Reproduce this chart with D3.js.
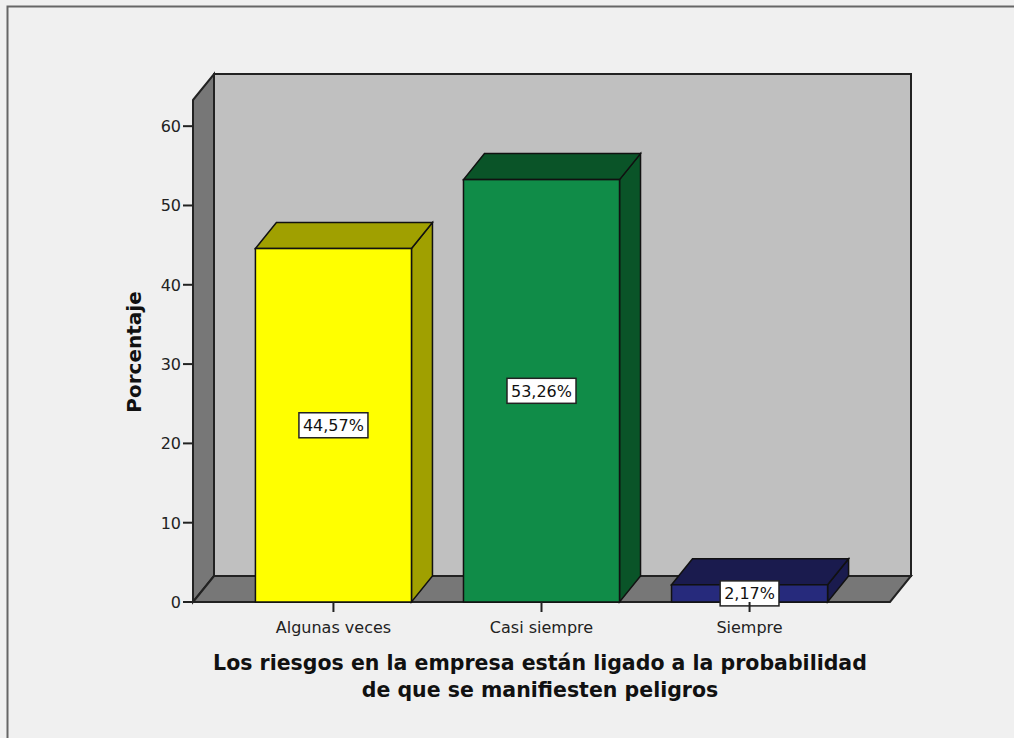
<!DOCTYPE html>
<html>
<head>
<meta charset="utf-8">
<title>Porcentaje</title>
<script src="https://d3js.org/d3.v7.min.js"></script>
<style>
    body { margin: 0; background: #f0f0f0; }
    svg { display: block; }
</style>
</head>
<body>
<div id="chart"></div>
<script>
    // data
    var categories = ['Algunas veces', 'Casi siempre', 'Siempre'];
    var values = [44.57, 53.26, 2.17];
    var valueLabels = ['44,57%', '53,26%', '2,17%'];
    var yTicks = [0, 10, 20, 30, 40, 50, 60];

    var frontColors = ['#ffff00', '#108c48', '#262a7c'];
    var darkColors = ['#a0a000', '#0a5428', '#1a1b4e'];

    var width = 1014, height = 738;
    var plotLeft = 193, plotRight = 890, plotBottom = 602, plotTop = 100;
    var dx = 21, dy = 26;
    var edge = '#222';
    var labelFont = '16px "DejaVu Sans", sans-serif';

    var svg = d3.select('#chart').append('svg')
        .attr('width', width)
        .attr('height', height)
        .style('background', '#f0f0f0');

    // frame
    svg.append('path')
        .attr('d', 'M7.5,' + height + 'V6.5H' + width)
        .attr('fill', 'none')
        .attr('stroke', '#666')
        .attr('stroke-width', 2);

    var y = d3.scaleLinear().domain([0, 63.3]).range([plotBottom, plotTop]);
    var x = d3.scaleBand().domain(categories).range([plotLeft, plotRight])
        .paddingInner(0.25).paddingOuter(0.3);

    function poly(pts) { return 'M' + pts.map(function(p){ return p.join(','); }).join('L') + 'Z'; }

    // back wall
    svg.append('rect')
        .attr('x', plotLeft + dx).attr('y', plotTop - dy)
        .attr('width', plotRight - plotLeft).attr('height', plotBottom - plotTop)
        .attr('fill', '#c0c0c0').attr('stroke', edge).attr('stroke-width', 2);

    // left wall
    svg.append('path')
        .attr('d', poly([[plotLeft, plotTop], [plotLeft + dx, plotTop - dy], [plotLeft + dx, plotBottom - dy], [plotLeft, plotBottom]]))
        .attr('fill', '#777').attr('stroke', edge).attr('stroke-width', 2);

    // floor
    svg.append('path')
        .attr('d', poly([[plotLeft, plotBottom], [plotLeft + dx, plotBottom - dy], [plotRight + dx, plotBottom - dy], [plotRight, plotBottom]]))
        .attr('fill', '#777').attr('stroke', edge).attr('stroke-width', 2);

    // y axis ticks
    var yAxis = svg.append('g');
    yAxis.selectAll('line').data(yTicks).enter().append('line')
        .attr('x1', plotLeft - 10).attr('x2', plotLeft)
        .attr('y1', function(d){ return y(d); }).attr('y2', function(d){ return y(d); })
        .attr('stroke', edge).attr('stroke-width', 2);
    yAxis.selectAll('text').data(yTicks).enter().append('text')
        .attr('x', plotLeft - 12).attr('y', function(d){ return y(d) + 6; })
        .attr('text-anchor', 'end')
        .style('font', labelFont)
        .attr('fill', '#222')
        .text(function(d){ return d; });

    // bars
    var bars = svg.selectAll('g.bar').data(values).enter().append('g').attr('class', 'bar');
    bars.each(function(d, i){
        var g = d3.select(this);
        var x0 = x(categories[i]), x1 = x0 + x.bandwidth(), yv = y(d);
        g.append('path')
            .attr('d', poly([[x1, yv], [x1 + dx, yv - dy], [x1 + dx, plotBottom - dy], [x1, plotBottom]]))
            .attr('fill', darkColors[i]).attr('stroke', '#111').attr('stroke-width', 1.5);
        g.append('path')
            .attr('d', poly([[x0, yv], [x0 + dx, yv - dy], [x1 + dx, yv - dy], [x1, yv]]))
            .attr('fill', darkColors[i]).attr('stroke', '#111').attr('stroke-width', 1.5);
        g.append('rect')
            .attr('x', x0).attr('y', yv)
            .attr('width', x.bandwidth()).attr('height', plotBottom - yv)
            .attr('fill', frontColors[i]).attr('stroke', '#111').attr('stroke-width', 1.5);
    });

    // x ticks and labels
    svg.selectAll('line.xt').data(categories).enter().append('line')
        .attr('class', 'xt')
        .attr('x1', function(d){ return x(d) + x.bandwidth() / 2; })
        .attr('x2', function(d){ return x(d) + x.bandwidth() / 2; })
        .attr('y1', plotBottom).attr('y2', plotBottom + 10)
        .attr('stroke', edge).attr('stroke-width', 2);
    svg.selectAll('text.xl').data(categories).enter().append('text')
        .attr('class', 'xl')
        .attr('x', function(d){ return x(d) + x.bandwidth() / 2; })
        .attr('y', 633)
        .attr('text-anchor', 'middle')
        .style('font', labelFont)
        .attr('fill', '#222')
        .text(function(d){ return d; });

    // value labels
    bars.each(function(d, i){
        var g = d3.select(this);
        var cx = x(categories[i]) + x.bandwidth() / 2;
        var cy = (y(d) + plotBottom) / 2;
        var t = g.append('text')
            .attr('x', cx).attr('y', cy + 6)
            .attr('text-anchor', 'middle')
            .style('font', labelFont)
            .attr('fill', '#111')
            .text(valueLabels[i]);
        var w = t.node().getComputedTextLength() + 8;
        g.insert('rect', 'text')
            .attr('x', cx - w / 2).attr('y', cy - 12.5)
            .attr('width', w).attr('height', 25)
            .attr('fill', '#fff').attr('stroke', '#222').attr('stroke-width', 1.5);
    });

    // axis titles
    svg.append('text')
        .attr('transform', 'translate(141,352) rotate(-90)')
        .attr('text-anchor', 'middle')
        .style('font', 'bold 20px "DejaVu Sans", sans-serif')
        .attr('fill', '#111')
        .text('Porcentaje');

    var title = svg.append('text')
        .attr('text-anchor', 'middle')
        .style('font', 'bold 20.5px "DejaVu Sans", sans-serif')
        .attr('fill', '#111');
    title.append('tspan').attr('x', 540).attr('y', 670)
        .text('Los riesgos en la empresa están ligado a la probabilidad');
    title.append('tspan').attr('x', 540).attr('y', 697)
        .text('de que se manifiesten peligros');
</script>
</body>
</html>
